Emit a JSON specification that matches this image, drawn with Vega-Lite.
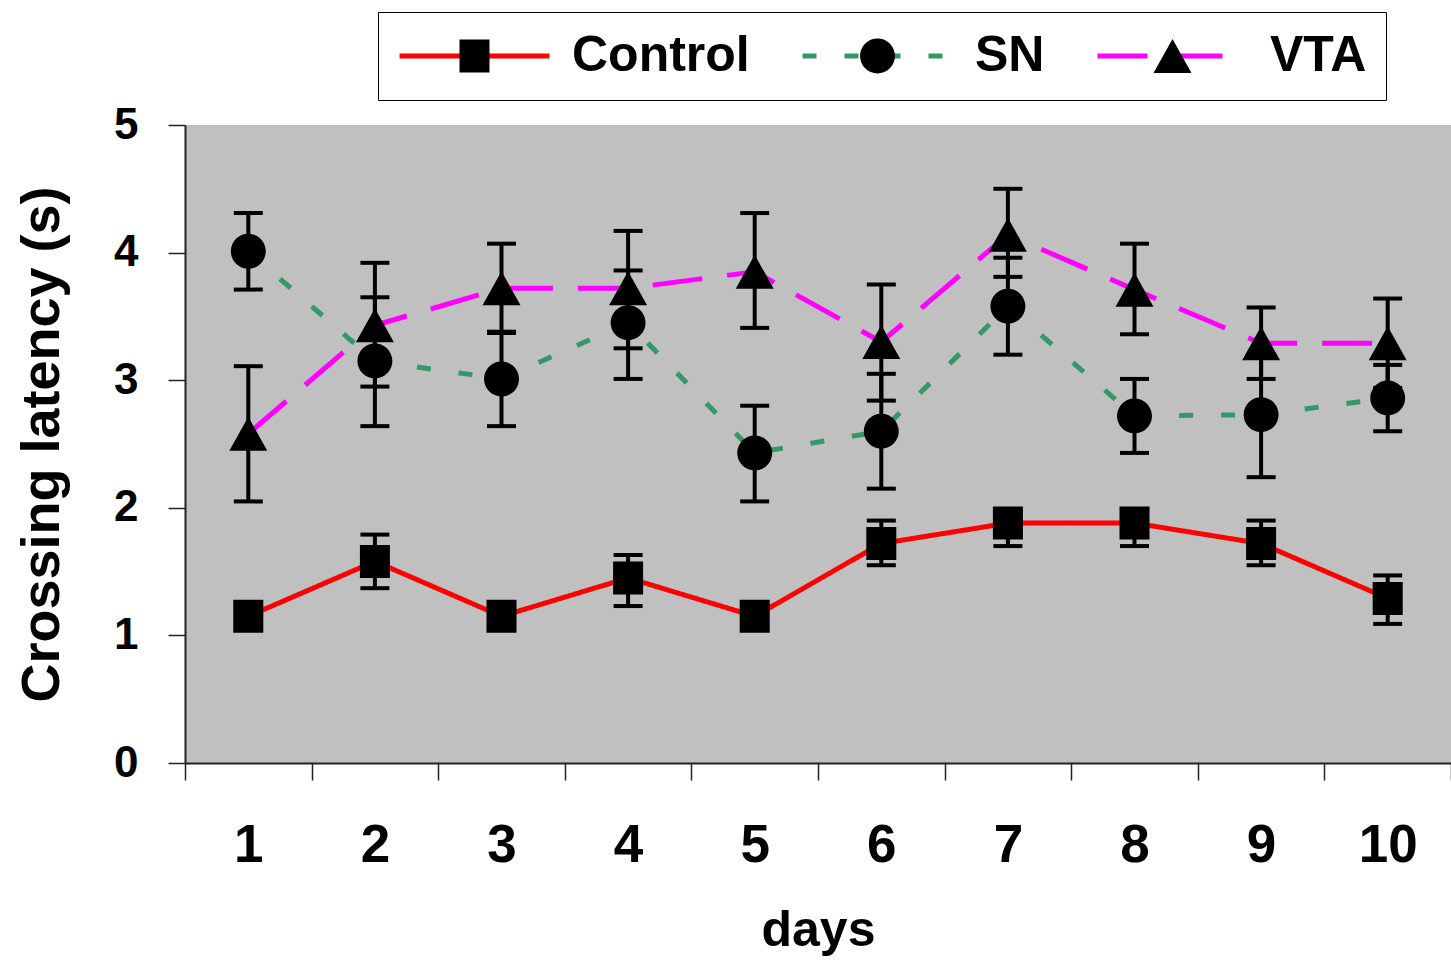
{
  "$schema": "https://vega.github.io/schema/vega-lite/v6.json",
  "autosize": {"type": "none"},
  "width": 1266,
  "height": 638,
  "padding": {"left": 185, "top": 125, "right": 0, "bottom": 198},
  "background": "white",
  "config": {
    "font": "Liberation Sans",
    "view": {"fill": "#c0c0c0", "stroke": null}
  },
  "data": {
    "values": [
      {"day": 1, "group": "Control", "mean": 1.15, "lo": 1.07, "hi": 1.23},
      {"day": 2, "group": "Control", "mean": 1.58, "lo": 1.37, "hi": 1.79},
      {"day": 3, "group": "Control", "mean": 1.15, "lo": 1.07, "hi": 1.23},
      {"day": 4, "group": "Control", "mean": 1.45, "lo": 1.23, "hi": 1.63},
      {"day": 5, "group": "Control", "mean": 1.15, "lo": 1.07, "hi": 1.23},
      {"day": 6, "group": "Control", "mean": 1.72, "lo": 1.55, "hi": 1.90},
      {"day": 7, "group": "Control", "mean": 1.88, "lo": 1.70, "hi": 1.98},
      {"day": 8, "group": "Control", "mean": 1.88, "lo": 1.70, "hi": 1.98},
      {"day": 9, "group": "Control", "mean": 1.72, "lo": 1.55, "hi": 1.90},
      {"day": 10, "group": "Control", "mean": 1.29, "lo": 1.09, "hi": 1.47},
      {"day": 1, "group": "SN", "mean": 4.01, "lo": 3.71, "hi": 4.31},
      {"day": 2, "group": "SN", "mean": 3.15, "lo": 2.64, "hi": 3.65},
      {"day": 3, "group": "SN", "mean": 3.01, "lo": 2.64, "hi": 3.38},
      {"day": 4, "group": "SN", "mean": 3.45, "lo": 3.01, "hi": 3.86},
      {"day": 5, "group": "SN", "mean": 2.43, "lo": 2.05, "hi": 2.80},
      {"day": 6, "group": "SN", "mean": 2.60, "lo": 2.15, "hi": 3.05},
      {"day": 7, "group": "SN", "mean": 3.58, "lo": 3.20, "hi": 3.96},
      {"day": 8, "group": "SN", "mean": 2.72, "lo": 2.43, "hi": 3.01},
      {"day": 9, "group": "SN", "mean": 2.73, "lo": 2.24, "hi": 3.20},
      {"day": 10, "group": "SN", "mean": 2.86, "lo": 2.60, "hi": 3.12},
      {"day": 1, "group": "VTA", "mean": 2.58, "lo": 2.05, "hi": 3.11},
      {"day": 2, "group": "VTA", "mean": 3.43, "lo": 2.95, "hi": 3.92},
      {"day": 3, "group": "VTA", "mean": 3.72, "lo": 3.37, "hi": 4.07},
      {"day": 4, "group": "VTA", "mean": 3.72, "lo": 3.25, "hi": 4.17},
      {"day": 5, "group": "VTA", "mean": 3.85, "lo": 3.41, "hi": 4.31},
      {"day": 6, "group": "VTA", "mean": 3.30, "lo": 2.84, "hi": 3.75},
      {"day": 7, "group": "VTA", "mean": 4.14, "lo": 3.81, "hi": 4.50},
      {"day": 8, "group": "VTA", "mean": 3.71, "lo": 3.36, "hi": 4.07},
      {"day": 9, "group": "VTA", "mean": 3.29, "lo": 3.01, "hi": 3.57},
      {"day": 10, "group": "VTA", "mean": 3.29, "lo": 2.94, "hi": 3.64}
    ]
  },
  "encoding": {
    "x": {
      "field": "day",
      "type": "ordinal",
      "scale": {"type": "band", "paddingInner": 0, "paddingOuter": 0},
      "axis": {
        "title": "days",
        "labelAngle": 0,
        "tickBand": "extent",
        "tickSize": 17,
        "tickWidth": 1.5,
        "tickColor": "#222",
        "domainColor": "#222",
        "domainWidth": 2,
        "grid": false,
        "labelFont": "Liberation Sans",
        "labelFontSize": 53,
        "labelFontWeight": "bold",
        "labelColor": "black",
        "labelPadding": 39,
        "titleFont": "Liberation Sans",
        "titleFontSize": 50,
        "titleFontWeight": "bold",
        "titleColor": "black",
        "titlePadding": 33
      }
    },
    "y": {
      "field": "mean",
      "type": "quantitative",
      "scale": {"domain": [0, 5], "nice": false, "zero": true},
      "axis": {
        "title": "Crossing latency (s)",
        "values": [0, 1, 2, 3, 4, 5],
        "format": "d",
        "grid": false,
        "tickSize": 17,
        "tickWidth": 1.5,
        "tickColor": "#222",
        "domainColor": "#222",
        "domainWidth": 2,
        "labelFont": "Liberation Sans",
        "labelFontSize": 44,
        "labelFontWeight": "bold",
        "labelColor": "black",
        "labelPadding": 30,
        "titleFont": "Liberation Sans",
        "titleFontSize": 54,
        "titleFontWeight": "bold",
        "titleColor": "black",
        "titlePadding": 44
      }
    }
  },
  "layer": [
    {
      "mark": {"type": "line", "strokeWidth": 5},
      "encoding": {
        "color": {
          "field": "group",
          "type": "nominal",
          "scale": {"domain": ["Control", "SN", "VTA"], "range": ["#ff0000", "#339966", "#ff00ff"]},
          "legend": {
            "title": null,
            "orient": "none",
            "legendX": 193,
            "legendY": -113,
            "direction": "horizontal",
            "symbolType": "stroke",
            "symbolSize": 22500,
            "symbolStrokeWidth": 5,
            "clipHeight": 50,
            "labelFont": "Liberation Sans",
            "labelFontSize": 50,
            "labelFontWeight": "bold",
            "labelColor": "black",
            "labelLimit": 500,
            "labelOffset": 20,
            "columnPadding": 50,
            "padding": 19,
            "strokeColor": "black",
            "fillColor": "white",
            "zindex": 1
          }
        },
        "strokeDash": {
          "field": "group",
          "type": "nominal",
          "scale": {"domain": ["Control", "SN", "VTA"], "range": [[1, 0], [14, 28], [50, 25]]}
        }
      }
    },
    {
      "mark": {"type": "rule", "color": "black", "strokeWidth": 4},
      "encoding": {
        "y": {"field": "lo", "type": "quantitative"},
        "y2": {"field": "hi"}
      }
    },
    {
      "mark": {"type": "tick", "color": "black", "size": 29, "thickness": 4, "opacity": 1},
      "encoding": {
        "y": {"field": "lo", "type": "quantitative"}
      }
    },
    {
      "mark": {"type": "tick", "color": "black", "size": 29, "thickness": 4, "opacity": 1},
      "encoding": {
        "y": {"field": "hi", "type": "quantitative"}
      }
    },
    {
      "mark": {"type": "point", "filled": true, "size": 22500, "color": "black", "opacity": 1, "strokeWidth": 0},
      "encoding": {
        "shape": {
          "field": "group",
          "type": "nominal",
          "scale": {
            "range": [
              "M-1,0L-1,0.001M1,0L1,0.001M-0.2,-0.22L0.2,-0.22L0.2,0.22L-0.2,0.22Z",
              "M-1,0L-1,0.001M1,0L1,0.001M-0.233,0A0.233,0.233,0,1,1,0.233,0A0.233,0.233,0,1,1,-0.233,0Z",
              "M-1,0L-1,0.001M1,0L1,0.001M0,-0.227L0.253,0.227L-0.253,0.227Z"
            ]
          },
          "legend": {
            "title": null,
            "orient": "none",
            "legendX": 193,
            "legendY": -113,
            "direction": "horizontal",
            "symbolSize": 22500,
            "symbolStrokeWidth": 5,
            "symbolStrokeColor": "transparent",
            "symbolFillColor": "black",
            "clipHeight": 50,
            "labelFont": "Liberation Sans",
            "labelFontSize": 50,
            "labelFontWeight": "bold",
            "labelOpacity": 0,
            "labelLimit": 500,
            "labelOffset": 20,
            "columnPadding": 50,
            "padding": 19,
            "zindex": 2
          }
        }
      }
    }
  ]
}
